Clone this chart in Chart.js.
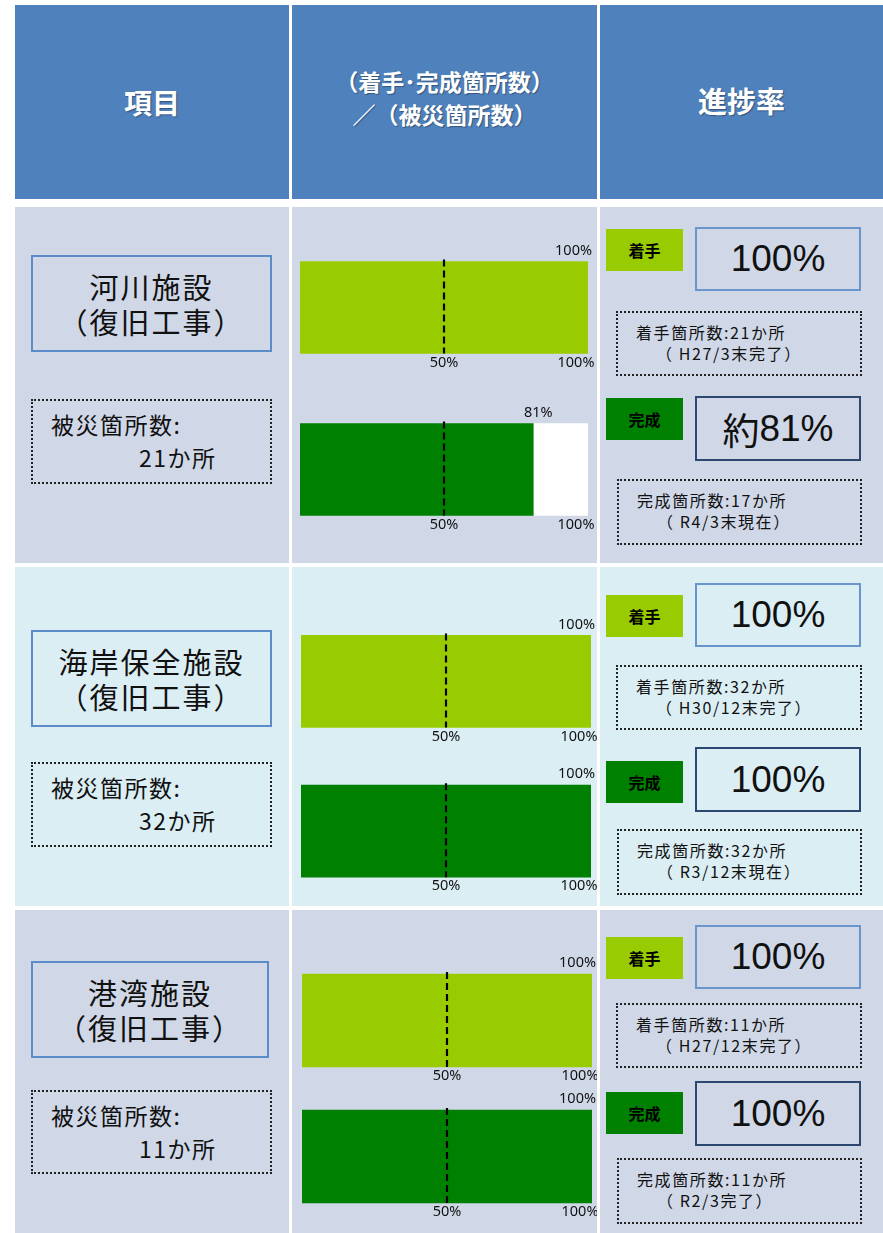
<!DOCTYPE html>
<html lang="ja">
<head>
<meta charset="utf-8">
<script src="https://cdn.jsdelivr.net/npm/chart.js@4"></script>
<style>
  body { margin: 0; background: #fff; font-family: "Noto Sans CJK JP", sans-serif; }
  #page { position: relative; width: 883px; height: 1233px; overflow: hidden; }
  .abs { position: absolute; box-sizing: border-box; }
  .head { background: #4f81bd; color: #fff; font-weight: bold; display: flex; align-items: center; justify-content: center; text-align: center; text-shadow: 1px 1px 1px rgba(0,0,0,0.35); }
  .title { border: 2px solid #5b8bc9; display: flex; align-items: center; justify-content: center; text-align: center; font-size: 29px; letter-spacing: 2px; line-height: 35px; color: #111; }
  .dmg { border: 2px dotted #222; font-size: 23px; letter-spacing: 1.5px; line-height: 33px; color: #111; padding: 7px 0 0 18px; }
  .tag { font-weight: bold; font-size: 16px; display: flex; align-items: center; justify-content: center; color: #000; }
  .rate { border: 2px solid #6a94cc; display: flex; align-items: center; justify-content: center; font-family: "Liberation Sans", Arial, sans-serif; font-size: 37px; color: #111; }
  .rate.done { border-color: #2c4770; }
  .rate .jp { font-family: "Noto Sans CJK JP", sans-serif; }
  .note { border: 2px dotted #222; font-size: 16px; letter-spacing: 1.6px; line-height: 21px; color: #111; padding: 9px 0 0 18px; }
  .note span { padding-left: 20px; }
  canvas { position: absolute; }
</style>
</head>
<body>
<div id="page"></div>
<script>
const categories = ['着手', '完成'];
const facilities = ['河川施設', '海岸保全施設', '港湾施設'];
const startedPct = [100, 100, 100];
const completedPct = [81, 100, 100];
const damagedCount = [21, 32, 11];
const startedCount = [21, 32, 11];
const completedCount = [17, 32, 11];
const startedNote = ['H27/3末完了', 'H30/12末完了', 'H27/12末完了'];
const completedNote = ['R4/3末現在', 'R3/12末現在', 'R2/3完了'];
const tickLabels = ['50%', '100%'];

// layout of each section (px)
const sections = [
  { top: 207, h: 356, bg: '#d0d8e8', pad: { top: 19.5, bottom: 12.5, left: 8, right: 9 }, bar: 92,
    title: [255, 352, 272], dmg: [399, 484], tag: [229, 398], rate: [227, 396], note: [311, 479] },
  { top: 567, h: 339, bg: '#dbeef4', pad: { top: 39.5, bottom: 0, left: 9, right: 6 }, bar: 92,
    title: [630, 727, 272], dmg: [762, 847], tag: [595, 761], rate: [583, 747], note: [665, 829] },
  { top: 910, h: 323, bg: '#d0d8e8', pad: { top: 42.5, bottom: 8.5, left: 10, right: 5 }, bar: 93,
    title: [961, 1058, 269], dmg: [1090, 1174], tag: [937, 1092], rate: [925, 1081], note: [1003, 1158] }
];

const page = document.getElementById('page');
function box(cls, x, y, w, h, html, style) {
  const d = document.createElement('div');
  d.className = 'abs ' + cls;
  d.style.left = x + 'px'; d.style.top = y + 'px';
  d.style.width = w + 'px'; d.style.height = h + 'px';
  if (style) Object.assign(d.style, style);
  d.innerHTML = html;
  page.appendChild(d);
  return d;
}

// header row
box('head', 15, 5, 274, 194, '項目', { fontSize: '28px' });
box('head', 292, 5, 305, 194, '（着手･完成箇所数）<br>／（被災箇所数）', { fontSize: '23px', lineHeight: '33px', paddingBottom: '8px' });
box('head', 600, 5, 283, 194, '進捗率', { fontSize: '29px', paddingBottom: '4px' });

// labels for the bars: dashed 50% line and percent texts
const barText = {
  id: 'barText',
  afterDatasetsDraw(chart) {
    const ctx = chart.ctx;
    const xs = chart.scales.x;
    const meta = chart.getDatasetMeta(0);
    const x50 = xs.getPixelForValue(50);
    const x100 = xs.getPixelForValue(100);
    ctx.save();
    ctx.font = '14.5px "Noto Sans", sans-serif';
    ctx.fillStyle = '#111';
    ctx.textBaseline = 'middle';
    meta.data.forEach((bar, i) => {
      const top = bar.y - bar.height / 2;
      const bottom = bar.y + bar.height / 2;
      ctx.setLineDash([7, 4]);
      ctx.lineWidth = 2.2;
      ctx.strokeStyle = '#000';
      ctx.beginPath();
      ctx.moveTo(x50, top - 2);
      ctx.lineTo(x50, bottom);
      ctx.stroke();
      ctx.setLineDash([]);
      const v = chart.data.datasets[0].data[i];
      if (v >= 100) {
        ctx.textAlign = 'right';
        ctx.fillText(v + '%', bar.x + 4, top - 11);
      } else {
        ctx.textAlign = 'center';
        ctx.fillText(v + '%', bar.x + 5, top - 11);
      }
      ctx.textAlign = 'center';
      ctx.fillText(tickLabels[0], x50, bottom + 9);
      ctx.fillText(tickLabels[1], x100 - 12, bottom + 9);
    });
    ctx.restore();
  }
};

sections.forEach((s, k) => {
  box('', 15, s.top, 274, s.h, '', { background: s.bg });
  box('', 292, s.top, 305, s.h, '', { background: s.bg });
  box('', 600, s.top, 283, s.h, '', { background: s.bg });

  // item column
  box('title', 31, s.title[0], s.title[2] - 31, s.title[1] - s.title[0], facilities[k] + '<br>（復旧工事）');
  box('dmg', 31, s.dmg[0], 241, s.dmg[1] - s.dmg[0],
    '被災箇所数:<br><span style="padding-left:88px">' + damagedCount[k] + 'か所</span>');

  // rate column
  const sp = startedPct[k], cp = completedPct[k];
  box('tag', 606, s.tag[0], 77, 42, categories[0], { background: '#99cc00' });
  box('rate', 695, s.rate[0], 166, 64, sp + '%');
  box('note', 616, s.note[0], 246, 65, '着手箇所数:' + startedCount[k] + 'か所<br><span>（ ' + startedNote[k] + '）</span>');
  box('tag', 606, s.tag[1], 77, 42, categories[1], { background: '#008000' });
  box('rate done', 695, s.rate[1], 166, 65, (cp < 100 ? '<span class="jp">約</span>' : '') + cp + '%');
  box('note', 617, s.note[1], 245, 66, '完成箇所数:' + completedCount[k] + 'か所<br><span>（ ' + completedNote[k] + '）</span>');

  // bar chart column
  const cv = document.createElement('canvas');
  cv.style.left = '292px';
  cv.style.top = s.top + 'px';
  cv.style.width = '305px';
  cv.style.height = s.h + 'px';
  cv.width = 305; cv.height = s.h;
  page.appendChild(cv);
  const vals = [sp, cp];
  new Chart(cv.getContext('2d'), {
    type: 'bar',
    data: {
      labels: categories,
      datasets: [
        { data: vals, backgroundColor: ['#99cc00', '#008000'], barThickness: s.bar },
        { data: vals.map(v => 100 - v), backgroundColor: '#ffffff', barThickness: s.bar }
      ]
    },
    options: {
      indexAxis: 'y',
      responsive: false,
      animation: false,
      layout: { padding: s.pad },
      plugins: { legend: { display: false }, tooltip: { enabled: false } },
      scales: {
        x: { stacked: true, min: 0, max: 100, display: false },
        y: { stacked: true, display: false }
      }
    },
    plugins: [barText]
  });
});
</script>
</body>
</html>
